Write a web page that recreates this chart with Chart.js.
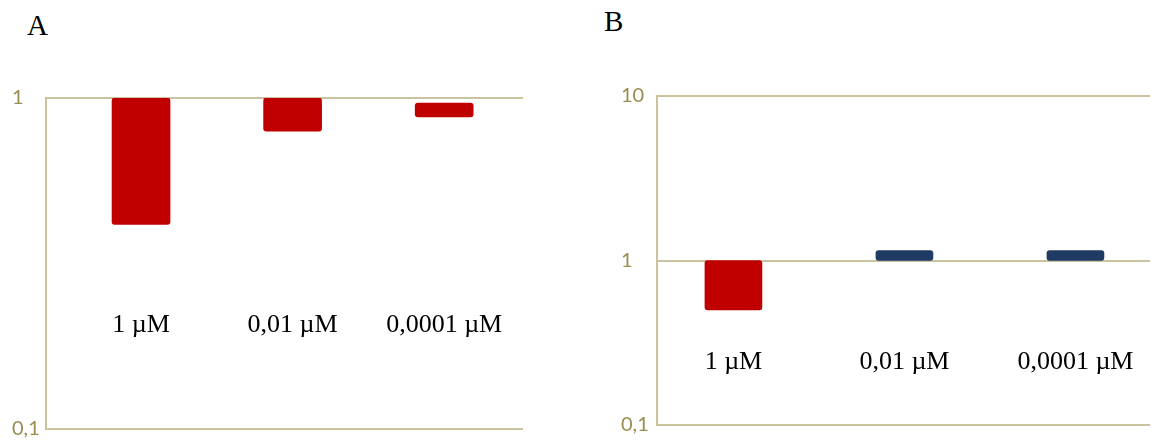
<!DOCTYPE html>
<html>
<head>
<meta charset="utf-8">
<script src="https://cdn.jsdelivr.net/npm/chart.js@4/dist/chart.umd.min.js"></script>
<style>
  body { margin: 0; background: #fff; width: 1156px; height: 444px; position: relative; overflow: hidden; }
  .panel { position: absolute; top: 0; }
  .letter { position: absolute; font-family: "Liberation Serif", "Times New Roman", serif; font-size: 29px; color: #000; }
</style>
</head>
<body>
<div class="letter" style="left:27px; top:9px;">A</div>
<div class="letter" style="left:604px; top:5px;">B</div>
<div class="panel" style="left:0; width:560px; height:444px;"><canvas id="chartA" width="560" height="444"></canvas></div>
<div class="panel" style="left:580px; width:576px; height:444px;"><canvas id="chartB" width="576" height="444"></canvas></div>
<script>
// categories (same for both panels)
var categories = ["1 µM", "0,01 µM", "0,0001 µM"];

// panel A: floating bars, low / high end
var lowA = [0.415, 0.794, 0.876];
var highA = [1, 1, 0.966];
var colorsA = ["#c00000", "#c00000", "#c00000"];
var tickValuesA = [0.1, 1];
var tickLabelsA = ["0,1", "1"];

// panel B
var lowB = [0.5, 1, 1];
var highB = [1, 1.15, 1.15];
var colorsB = ["#c00000", "#1f3a63", "#1f3a63"];
var tickValuesB = [0.1, 1, 10];
var tickLabelsB = ["0,1", "1", "10"];

var axisColor = "#cbc29f";
var tickColor = "#9a8d50";

// draws the category names inside the plot
var categoryLabels = {
  id: "categoryLabels",
  afterDatasetsDraw: function (chart, args, opts) {
    var ctx = chart.ctx;
    var y = chart.scales.y.getPixelForValue(opts.level);
    ctx.save();
    ctx.font = "26px 'Liberation Serif', 'Times New Roman', serif";
    ctx.fillStyle = "#000";
    ctx.textAlign = "center";
    ctx.textBaseline = "middle";
    categories.forEach(function (c, i) {
      ctx.fillText(c, chart.scales.x.getPixelForValue(i), y);
    });
    ctx.restore();
  },
};

function makeChart(id, lows, highs, colors, tickValues, tickLabels, opt) {
  var data = categories.map(function (c, i) {
    return { x: i, y: [lows[i], highs[i]] };
  });
  return new Chart(document.getElementById(id), {
    type: "bar",
    data: {
      datasets: [
        {
          data: data,
          backgroundColor: colors,
          borderWidth: 0,
          borderRadius: 3,
          borderSkipped: false,
          barThickness: opt.barThickness,
        },
      ],
    },
    plugins: [categoryLabels],
    options: {
      responsive: false,
      animation: false,
      layout: { padding: opt.padding },
      plugins: {
        legend: { display: false },
        tooltip: { enabled: false },
        categoryLabels: { level: opt.labelLevel },
      },
      scales: {
        x: {
          type: "linear",
          display: false,
          offset: false,
          min: opt.xMin,
          max: opt.xMax,
        },
        y: {
          type: "logarithmic",
          min: tickValues[0],
          max: tickValues[tickValues.length - 1],
          afterBuildTicks: function (scale) {
            scale.ticks = tickValues.map(function (v) {
              return { value: v };
            });
          },
          afterFit: function (scale) {
            scale.width = opt.axisWidth;
          },
          ticks: {
            color: tickColor,
            font: { family: "Lato, 'Open Sans', sans-serif", size: 20 },
            crossAlign: "far",
            callback: function (value) {
              var k = tickValues.indexOf(value);
              return k >= 0 ? tickLabels[k] : "";
            },
          },
          grid: { color: axisColor, lineWidth: 2, drawTicks: false },
          border: { display: true, color: axisColor, width: 2 },
        },
      },
    },
  });
}

makeChart("chartA", lowA, highA, colorsA, tickValuesA, tickLabelsA, {
  padding: { left: 12, top: 98, right: 37, bottom: 15 },
  axisWidth: 34,
  xMin: -0.627,
  xMax: 2.52,
  barThickness: 58,
  labelLevel: 0.206,
});

makeChart("chartB", lowB, highB, colorsB, tickValuesB, tickLabelsB, {
  padding: { left: 41, top: 96, right: 6, bottom: 19 },
  axisWidth: 36,
  xMin: -0.447,
  xMax: 2.436,
  barThickness: 57,
  labelLevel: 0.241,
});
</script>
</body>
</html>
